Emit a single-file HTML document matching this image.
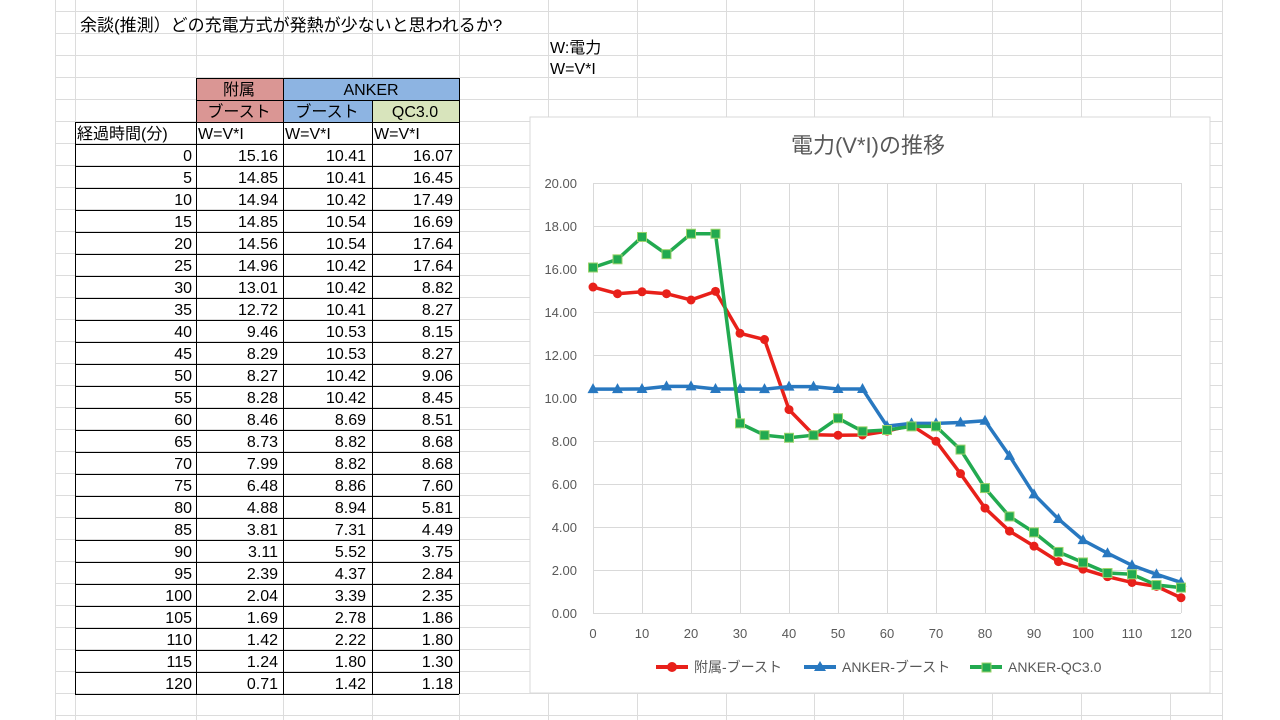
<!DOCTYPE html>
<html><head><meta charset="utf-8"><style>
html,body{margin:0;padding:0;background:#fff;}
svg{display:block;font-family:"Liberation Sans","Noto Sans CJK JP",sans-serif;}
</style></head><body>
<svg id="s" width="1280" height="720" viewBox="0 0 1280 720" xmlns="http://www.w3.org/2000/svg">
<g id="grid" stroke="#dcdcdc" stroke-width="1"></g>
<text x="80" y="31" font-size="17" fill="#000">余談(推測）どの充電方式が発熱が少ないと思われるか?</text>
<text x="550" y="53" font-size="16" fill="#000">W:電力</text>
<text x="550" y="74" font-size="16" fill="#000">W=V*I</text>
<!-- table header fills -->
<rect x="196" y="78" width="87" height="44" fill="#DA9694"/>
<rect x="283" y="78" width="176" height="22" fill="#8DB4E2"/>
<rect x="283" y="100" width="89" height="22" fill="#8DB4E2"/>
<rect x="372" y="100" width="87" height="22" fill="#D8E4BC"/>
<g id="tbl" stroke="#000" stroke-width="1"></g>
<g font-size="16" fill="#000" text-anchor="middle">
<text x="239" y="95">附属</text>
<text x="371" y="95">ANKER</text>
<text x="239" y="117">ブースト</text>
<text x="327" y="117">ブースト</text>
<text x="415" y="117">QC3.0</text>
</g>
<g font-size="16" fill="#000">
<text x="77" y="139">経過時間(分)</text>
<text x="198" y="139">W=V*I</text>
<text x="285" y="139">W=V*I</text>
<text x="374" y="139">W=V*I</text>
</g>
<g id="rows" font-size="16" fill="#000" text-anchor="end"></g>
<!-- chart -->
<rect x="530" y="117" width="680" height="576" fill="#fff" stroke="#d9d9d9"/>
<text x="868" y="153" font-size="22" fill="#595959" text-anchor="middle">電力(V*I)の推移</text>
<g id="cg" stroke="#d9d9d9" stroke-width="1"></g>
<g font-size="13" fill="#595959" text-anchor="end">
<text x="577" y="188">20.00</text><text x="577" y="231">18.00</text><text x="577" y="274">16.00</text>
<text x="577" y="317">14.00</text><text x="577" y="360">12.00</text><text x="577" y="403">10.00</text>
<text x="577" y="446">8.00</text><text x="577" y="489">6.00</text><text x="577" y="532">4.00</text>
<text x="577" y="575">2.00</text><text x="577" y="618">0.00</text>
</g>
<g font-size="13" fill="#595959" text-anchor="middle">
<text x="593" y="638">0</text><text x="642" y="638">10</text><text x="691" y="638">20</text>
<text x="740" y="638">30</text><text x="789" y="638">40</text><text x="838" y="638">50</text>
<text x="887" y="638">60</text><text x="936" y="638">70</text><text x="985" y="638">80</text>
<text x="1034" y="638">90</text><text x="1083" y="638">100</text><text x="1132" y="638">110</text>
<text x="1181" y="638">120</text>
</g>
<g id="series"></g>
<g font-size="14" fill="#595959">
<line x1="656" y1="667" x2="688" y2="667" stroke="#E8201A" stroke-width="4"/><circle cx="672" cy="667" r="5" fill="#E8201A"/>
<text x="694" y="672">附属-ブースト</text>
<line x1="804" y1="667" x2="836" y2="667" stroke="#2878C0" stroke-width="4"/><polygon points="820,661 826,671 814,671" fill="#2878C0"/>
<text x="842" y="672">ANKER-ブースト</text>
<line x1="970" y1="667" x2="1002" y2="667" stroke="#22AA50" stroke-width="4"/><rect x="982" y="663" width="9" height="9" fill="#22AA50" stroke="#9BD36A"/>
<text x="1008" y="672">ANKER-QC3.0</text>
</g>
</svg>
<script>
var NS="http://www.w3.org/2000/svg";
function el(p,t,a){var e=document.createElementNS(NS,t);for(var k in a)e.setAttribute(k,a[k]);p.appendChild(e);return e;}
var g=document.getElementById('grid');
for(var y=11;y<=720;y+=22){el(g,'line',{x1:55,y1:y+.5,x2:1222,y2:y+.5});}
[55,75,196,283,372,459,548,637,726,814,903,992,1081,1170,1222].forEach(function(x){el(g,'line',{x1:x+.5,y1:0,x2:x+.5,y2:720});});
var t=document.getElementById('tbl');
el(t,'line',{x1:196,y1:78.5,x2:459,y2:78.5});
el(t,'line',{x1:196,y1:100.5,x2:459,y2:100.5});
for(var y=122;y<=694;y+=22){el(t,'line',{x1:75,y1:y+.5,x2:459,y2:y+.5});}
el(t,'line',{x1:75.5,y1:122,x2:75.5,y2:694});
el(t,'line',{x1:196.5,y1:78,x2:196.5,y2:694});
el(t,'line',{x1:283.5,y1:78,x2:283.5,y2:694});
el(t,'line',{x1:372.5,y1:100,x2:372.5,y2:694});
el(t,'line',{x1:459.5,y1:78,x2:459.5,y2:694});
var A=[15.16,14.85,14.94,14.85,14.56,14.96,13.01,12.72,9.46,8.29,8.27,8.28,8.46,8.73,7.99,6.48,4.88,3.81,3.11,2.39,2.04,1.69,1.42,1.24,0.71];
var B=[10.41,10.41,10.42,10.54,10.54,10.42,10.42,10.41,10.53,10.53,10.42,10.42,8.69,8.82,8.82,8.86,8.94,7.31,5.52,4.37,3.39,2.78,2.22,1.80,1.42];
var C=[16.07,16.45,17.49,16.69,17.64,17.64,8.82,8.27,8.15,8.27,9.06,8.45,8.51,8.68,8.68,7.60,5.81,4.49,3.75,2.84,2.35,1.86,1.80,1.30,1.18];
var r=document.getElementById('rows');
for(var i=0;i<25;i++){var yy=161+i*22;
 [[192,String(i*5)],[278,A[i].toFixed(2)],[366,B[i].toFixed(2)],[453,C[i].toFixed(2)]].forEach(function(c){var e=el(r,'text',{x:c[0],y:yy});e.textContent=c[1];});}
var cg=document.getElementById('cg');
for(var k=0;k<=10;k++){var y=613-k*43;el(cg,'line',{x1:593,y1:y+.5,x2:1181,y2:y+.5});}
for(var k=0;k<=12;k++){var x=593+k*49;el(cg,'line',{x1:x+.5,y1:183,x2:x+.5,y2:613});}
var s=document.getElementById('series');
function X(i){return 593+i*24.5;}function Y(v){return 613-v*21.5;}
function ser(d,col,m){var pts=d.map(function(v,i){return X(i)+','+Y(v);}).join(' ');
 el(s,'polyline',{points:pts,fill:'none',stroke:col,'stroke-width':3.5,'stroke-linejoin':'round'});
 d.forEach(function(v,i){var x=X(i),y=Y(v);
  if(m=='c')el(s,'circle',{cx:x,cy:y,r:4.5,fill:col});
  else if(m=='t')el(s,'polygon',{points:x+','+(y-6)+' '+(x+5.5)+','+(y+4)+' '+(x-5.5)+','+(y+4),fill:col});
  else el(s,'rect',{x:x-4.5,y:y-4.5,width:9,height:9,fill:col,stroke:'#9BD36A'});});}
ser(A,'#E8201A','c');ser(B,'#2878C0','t');ser(C,'#22AA50','s');
</script>
</body></html>
